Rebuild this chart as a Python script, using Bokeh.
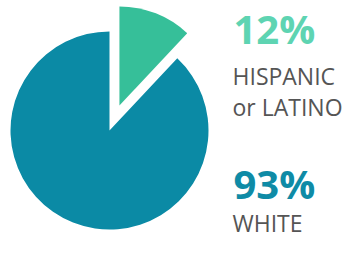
import numpy as np
from bokeh.plotting import figure
from bokeh.models import ColumnDataSource, Range1d
from bokeh.core.properties import value
from bokeh.embed import file_html
from bokeh.resources import INLINE

# Data
categories = ["Hispanic or Latino", "White (rest)"]
shares = [12, 88]
slice_colors = ["#36BF99", "#0B8AA5"]
explode = [27, 0]

pct_labels = ["12%", "93%"]
pct_colors = ["#5ED4B2", "#0F8BA6"]
name_labels = [["HISPANIC", "or LATINO"], ["WHITE"]]

W, H = 345, 239
p = figure(width=W, height=H, output_backend="svg", toolbar_location=None,
           x_range=Range1d(0, W), y_range=Range1d(0, H), min_border=0)
p.axis.visible = False
p.grid.visible = False
p.outline_line_color = None
p.background_fill_color = "white"

cx, cy, r = 109, 109, 99
vals = np.array(shares, dtype=float)
fr = vals / vals.sum()
ends = np.cumsum(fr) * 2 * np.pi
starts = ends - fr * 2 * np.pi
start_ang = np.pi / 2 - starts
end_ang = np.pi / 2 - ends
mid = (start_ang + end_ang) / 2
xs = cx + np.array(explode) * np.cos(mid)
ys = cy + np.array(explode) * np.sin(mid)

src = ColumnDataSource(dict(x=xs, y=ys, s=start_ang, e=end_ang, c=slice_colors))
p.wedge(x="x", y="y", radius=r, start_angle="s", end_angle="e", direction="clock",
        fill_color="c", line_color=None, source=src)

font = value("Open Sans")
# percentage labels
p.text(x=[233, 233], y=[211, 56], text=pct_labels, text_color=pct_colors,
       text_font=font, text_font_size="40px", text_font_style="bold",
       text_baseline="middle")
# name labels
p.text(x=[232, 232], y=[164, 133], text=name_labels[0], text_color="#555555",
       text_font=font, text_font_size="23px", text_baseline="middle")
p.text(x=[232], y=[17], text=name_labels[1], text_color="#555555",
       text_font=font, text_font_size="23px", text_baseline="middle")

open("out.html", "w").write(file_html(p, INLINE))
